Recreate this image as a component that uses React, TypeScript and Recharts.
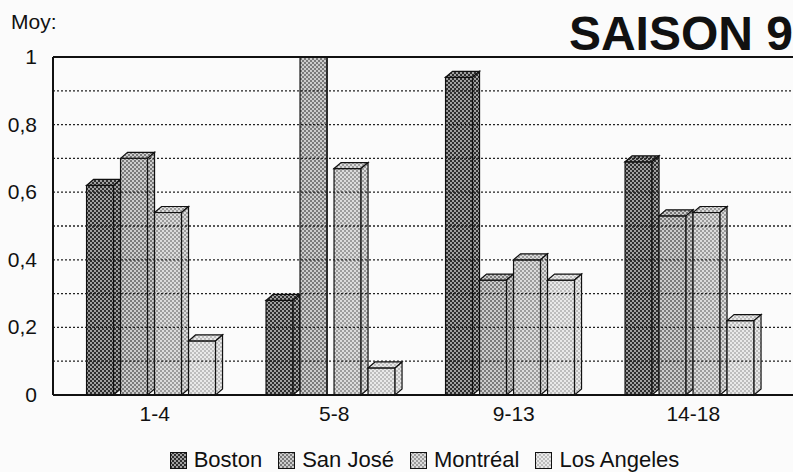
import { Bar, BarChart, CartesianGrid, Legend, ReferenceLine, XAxis, YAxis } from 'recharts';

const categories = ['1-4', '5-8', '9-13', '14-18'];
const boston = [0.62, 0.28, 0.94, 0.69];
const sanJose = [0.7, 1.0, 0.34, 0.53];
const montreal = [0.54, 0.67, 0.4, 0.54];
const losAngeles = [0.16, 0.08, 0.34, 0.22];
const yTicks = [0, 0.2, 0.4, 0.6, 0.8, 1];
const gridValues = [0.1, 0.2, 0.3, 0.4, 0.5, 0.6, 0.7, 0.8, 0.9];

const SERIES = [
  { key: 'boston', name: 'Boston', bg: '#2e2e2e', dot: '#d8d8d8' },
  { key: 'sanJose', name: 'San José', bg: '#7a7a7a', dot: '#f4f4f4' },
  { key: 'montreal', name: 'Montréal', bg: '#9c9c9c', dot: '#fafafa' },
  { key: 'losAngeles', name: 'Los Angeles', bg: '#bdbdbd', dot: '#ffffff' },
];

const data = categories.map((cat, i) => ({
  cat,
  boston: boston[i],
  sanJose: sanJose[i],
  montreal: montreal[i],
  losAngeles: losAngeles[i],
}));

const FONT = 'Arial, "Liberation Sans", sans-serif';
const PLOT_TOP = 57;
const DX = 7;
const DY = 6;

/** Hidden svg holding the dot patterns used by bars and legend. */
function Patterns() {
  return (
    <svg width={0} height={0} style={{ position: 'absolute' }}>
      <defs>
        {SERIES.map((s) => (
          <pattern key={s.key} id={`pat-${s.key}`} width={4} height={4} patternUnits="userSpaceOnUse">
            <rect width={4} height={4} fill={s.bg} />
            <circle cx={1} cy={1} r={0.9} fill={s.dot} />
            <circle cx={3} cy={3} r={0.9} fill={s.dot} />
          </pattern>
        ))}
      </defs>
    </svg>
  );
}

/** Box-shaped bar: front face, slanted top and right side. */
function Bar3D(props: any) {
  const { x, y, width, height, fill } = props;
  if (!height || height <= 0) return null;
  const fw = width - DX;
  const bottom = y + height;
  const topY = Math.max(y - DY, PLOT_TOP);
  const dy = y - topY;
  const dx = dy === DY ? DX : (DX * dy) / DY;
  return (
    <g stroke="#111" strokeWidth={1.2}>
      <rect x={x} y={y} width={fw} height={height} fill={fill} />
      {dy > 0 && (
        <polygon
          points={`${x},${y} ${x + dx},${topY} ${x + fw + dx},${topY} ${x + fw},${y}`}
          fill={fill}
        />
      )}
      <polygon
        points={`${x + fw},${y} ${x + fw + dx},${topY} ${x + fw + dx},${bottom - dy} ${x + fw},${bottom}`}
        fill={fill}
      />
    </g>
  );
}

function XTick({ x, y, payload }: any) {
  return (
    <text x={x} y={y + 16} textAnchor="middle" fontSize={21} fontFamily={FONT} fill="#111">
      {payload.value}
    </text>
  );
}

function YTick({ x, y, payload }: any) {
  return (
    <text x={x} y={y + 7} textAnchor="end" fontSize={21} fontFamily={FONT} fill="#111">
      {String(payload.value).replace('.', ',')}
    </text>
  );
}

function LegendContent() {
  return (
    <div
      style={{
        display: 'flex',
        justifyContent: 'center',
        gap: 16,
        fontFamily: FONT,
        fontSize: 22,
        lineHeight: '20px',
        color: '#111',
        paddingLeft: 56,
      }}
    >
      {SERIES.map((s) => (
        <span key={s.key} style={{ display: 'inline-flex', alignItems: 'center', gap: 7 }}>
          <svg width={17} height={17}>
            <rect x={0.5} y={0.5} width={16} height={16} fill={`url(#pat-${s.key})`} stroke="#111" />
          </svg>
          {s.name}
        </span>
      ))}
    </div>
  );
}

export default function App() {
  return (
    <div style={{ position: 'relative', width: 793, height: 472, background: '#fbfbfb', fontFamily: FONT }}>
      <style>{'body{margin:0}'}</style>
      <Patterns />
      <div style={{ position: 'absolute', left: 11, top: 10, fontSize: 21, color: '#111' }}>Moy:</div>
      <div style={{ position: 'absolute', right: 0, top: 6, fontSize: 48, fontWeight: 'bold', color: '#111' }}>
        SAISON 9
      </div>
      <BarChart
        width={793}
        height={472}
        data={data}
        margin={{ top: PLOT_TOP, right: 0, bottom: 2, left: 0 }}
        barCategoryGap="12%"
        barGap={0}
      >
        <CartesianGrid horizontal={false} vertical={false} />
        {gridValues.map((v) => (
          <ReferenceLine key={v} y={v} stroke="#222" strokeDasharray="2 2" strokeWidth={1.3} />
        ))}
        <ReferenceLine y={1} stroke="#111" strokeWidth={2} />
        <XAxis
          dataKey="cat"
          tickLine={false}
          axisLine={{ stroke: '#111', strokeWidth: 2 }}
          tick={<XTick />}
          padding={{ left: 12, right: 10 }}
          height={55}
          tickMargin={4}
        />
        <YAxis
          domain={[0, 1]}
          ticks={yTicks}
          width={53}
          tickLine={false}
          axisLine={{ stroke: '#111', strokeWidth: 2 }}
          tick={<YTick />}
          tickMargin={10}
        />
        {SERIES.map((s) => (
          <Bar
            key={s.key}
            dataKey={s.key}
            name={s.name}
            fill={`url(#pat-${s.key})`}
            shape={<Bar3D />}
            isAnimationActive={false}
          />
        ))}
        <Legend verticalAlign="bottom" height={20} content={<LegendContent />} />
      </BarChart>
    </div>
  );
}
